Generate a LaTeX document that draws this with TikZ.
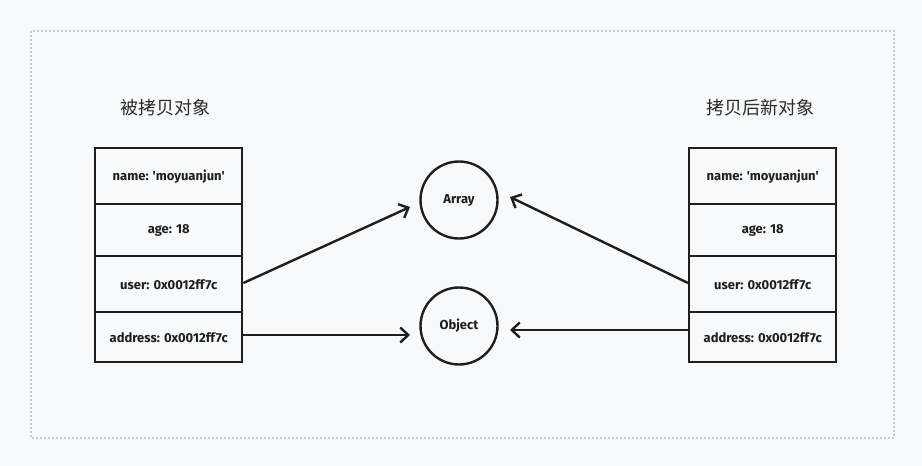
\documentclass[tikz,border=0pt]{standalone}
\usepackage{fontspec}
\setmainfont{Fira Sans}
\newfontfamily\cellfont{Fira Sans}
\newfontfamily\cjk{Noto Sans CJK SC}
\usetikzlibrary{arrows.meta}
\definecolor{bgc}{HTML}{F8F9FA}
\definecolor{dotc}{HTML}{C8CACD}
\definecolor{ink}{HTML}{1E1E1E}
\definecolor{titlec}{HTML}{2B2B2B}
\tikzset{
  cell/.style={draw=ink, line width=2.4pt, minimum width=147pt, inner sep=0pt, font=\cellfont\fontsize{13}{15}\selectfont\bfseries, text=ink},
  obj/.style={circle, draw=ink, line width=2.4pt, minimum size=77pt, inner sep=0pt, font=\cellfont\fontsize{13}{15}\selectfont\bfseries, text=ink},
  conn/.style={draw=ink, line width=2.4pt, -{Straight Barb[length=8pt,width=15pt,line width=2.4pt]}},
  ttl/.style={font=\cjk\fontsize{18}{20}\selectfont, text=titlec}
}
\begin{document}
\begin{tikzpicture}[x=1pt,y=-1pt]
\fill[bgc] (0,0) rectangle (922,466);
\useasboundingbox (0,0) rectangle (922,466);
\draw[dotc, line width=1.8pt, dash pattern=on 1.6pt off 2.4pt] (31,31) rectangle (894,438);
\node[ttl] (t1) at (165,108) {被拷贝对象};
\node[ttl] (t2) at (760,108) {拷贝后新对象};
% left box
\node[cell, minimum height=56pt, anchor=north west] (l1) at (94,147) {name: 'moyuanjun'};
\node[cell, minimum height=52pt, anchor=north west] (l2) at (94,203) {age: 18};
\node[cell, minimum height=56pt, anchor=north west] (l3) at (94,255) {user: 0x0012ff7c};
\node[cell, minimum height=50pt, anchor=north west] (l4) at (94,311) {address: 0x0012ff7c};
% right box
\node[cell, minimum height=56pt, anchor=north west] (r1) at (688,147) {name: 'moyuanjun'};
\node[cell, minimum height=52pt, anchor=north west] (r2) at (688,203) {age: 18};
\node[cell, minimum height=56pt, anchor=north west] (r3) at (688,255) {user: 0x0012ff7c};
\node[cell, minimum height=50pt, anchor=north west] (r4) at (688,311) {address: 0x0012ff7c};
% circles
\node[obj] (arr) at (459,200) {Array};
\node[obj] (ob) at (459,326) {Object};
% connectors
\coordinate (a1) at (410,207);
\coordinate (a2) at (410,335);
\coordinate (a3) at (510,197);
\coordinate (a4) at (510,330);
\draw[conn] (l3.east |- 0,283) -- (a1);
\draw[conn] (l4.east |- 0,335) -- (a2);
\draw[conn] (r3.west |- 0,283) -- (a3);
\draw[conn] (r4.west |- 0,330) -- (a4);
\end{tikzpicture}
\end{document}
